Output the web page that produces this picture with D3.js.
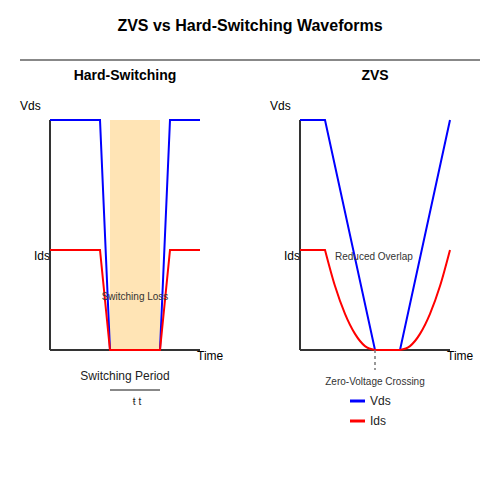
<!DOCTYPE html>
<html>
<head>
<meta charset="utf-8">
<script src="https://cdn.jsdelivr.net/npm/d3@7"></script>
<style>
  body { margin: 0; background: #fff; }
  svg { font-family: "Liberation Sans", Arial, sans-serif; }
</style>
</head>
<body>
<svg width="500" height="500"></svg>
<script>
// waveform data, time in arbitrary units, level normalised 0..1
const hardVdsT = [0, 5, 6, 11, 12, 15];
const hardVds  = [1, 1, 0, 0, 1, 1];
const hardIdsT = [0, 5, 6, 11, 12, 15];
const hardIds  = [0.435, 0.435, 0, 0, 0.435, 0.435];
const lossBand = [6, 11];

const zvsVdsT = [0, 2.5, 7.5, 10, 15];
const zvsVds  = [1, 1, 0, 0, 1];
const zvsIdsT = [0, 2.5, 3.5, 4.5, 5.5, 6.5, 7.5, 10, 11, 12, 13, 14, 15];
const zvsIds  = [0.435, 0.435, 0.278, 0.157, 0.07, 0.017, 0, 0, 0.017, 0.07, 0.157, 0.278, 0.435];
// index ranges of the Ids trace: flat, fall, flat, rise
const zvsIdsParts = [[0, 1], [1, 6], [6, 7], [7, 12]];
const zeroCross = 7.5;

const legendItems = [
  { name: 'Vds', color: 'blue' },
  { name: 'Ids', color: 'red' }
];

const plotW = 150;
const plotH = 230;
const idsLevel = 0.435;

const svg = d3.select('svg');

svg.append('text')
  .attr('x', 250).attr('y', 31)
  .attr('text-anchor', 'middle')
  .style('font-size', '16px').style('font-weight', 'bold')
  .text('ZVS vs Hard-Switching Waveforms');

svg.append('line')
  .attr('x1', 20).attr('x2', 480).attr('y1', 60).attr('y2', 60)
  .attr('stroke', '#888').attr('stroke-width', 2);

const x = d3.scaleLinear().domain([0, 15]).range([0, plotW]);
const y = d3.scaleLinear().domain([0, 1]).range([plotH, 0]);

function zip(ts, vs) {
  return ts.map((t, i) => [t, vs[i]]);
}

function panel(ox, title) {
  svg.append('text')
    .attr('x', ox + 75).attr('y', 80)
    .attr('text-anchor', 'middle')
    .style('font-size', '14px').style('font-weight', 'bold')
    .text(title);

  const g = svg.append('g').attr('transform', 'translate(' + ox + ',120)');

  g.append('text').attr('x', -30).attr('y', -10)
    .style('font-size', '12px').text('Vds');
  g.append('text').attr('x', 0).attr('y', y(idsLevel) + 10)
    .attr('text-anchor', 'end')
    .style('font-size', '12px').text('Ids');
  g.append('text').attr('x', plotW - 3).attr('y', plotH + 10)
    .style('font-size', '12px').text('Time');
  return g;
}

function axes(g) {
  g.append('line')
    .attr('x1', 0).attr('x2', 0).attr('y1', 0).attr('y2', plotH)
    .attr('stroke', '#333').attr('stroke-width', 2);
  g.append('line')
    .attr('x1', 0).attr('x2', plotW).attr('y1', plotH).attr('y2', plotH)
    .attr('stroke', '#333').attr('stroke-width', 2);
}

function wave(g, pts, color) {
  g.append('path')
    .datum(pts)
    .attr('d', d3.line().x(d => x(d[0])).y(d => y(d[1])))
    .attr('fill', 'none')
    .attr('stroke', color)
    .attr('stroke-width', 2);
}

// hard switching
const gh = panel(50, 'Hard-Switching');
gh.append('rect')
  .attr('x', x(lossBand[0])).attr('y', y(1))
  .attr('width', x(lossBand[1]) - x(lossBand[0]))
  .attr('height', y(0) - y(1))
  .attr('fill', '#ffe4b5');
axes(gh);
wave(gh, zip(hardVdsT, hardVds), 'blue');
wave(gh, zip(hardIdsT, hardIds), 'red');
gh.append('text')
  .attr('x', x((lossBand[0] + lossBand[1]) / 2)).attr('y', 180)
  .attr('text-anchor', 'middle')
  .style('font-size', '10px').attr('fill', '#333')
  .text('Switching Loss');
gh.append('text')
  .attr('x', 75).attr('y', 260)
  .attr('text-anchor', 'middle')
  .style('font-size', '12px').attr('fill', '#222')
  .text('Switching Period');
gh.append('line')
  .attr('x1', x(lossBand[0])).attr('x2', x(lossBand[1]))
  .attr('y1', 270).attr('y2', 270)
  .attr('stroke', '#888').attr('stroke-width', 2);
gh.append('text')
  .attr('x', 87).attr('y', 285)
  .attr('text-anchor', 'middle')
  .style('font-size', '10px').attr('fill', '#222')
  .text('ŧ t');

// ZVS
const gz = panel(300, 'ZVS');
axes(gz);
wave(gz, zip(zvsVdsT, zvsVds), 'blue');

const idsPts = zip(zvsIdsT, zvsIds);
const curveLine = d3.line().x(d => x(d[0])).y(d => y(d[1])).curve(d3.curveMonotoneX);
const idsPath = zvsIdsParts
  .map((p, i) => {
    const d = curveLine(idsPts.slice(p[0], p[1] + 1));
    return i === 0 ? d : 'L' + d.slice(1);
  })
  .join('');
gz.append('path')
  .attr('d', idsPath)
  .attr('fill', 'none')
  .attr('stroke', 'red')
  .attr('stroke-width', 2);

gz.append('text')
  .attr('x', 35).attr('y', y(idsLevel) + 10)
  .style('font-size', '10px').attr('fill', '#333')
  .text('Reduced Overlap');
gz.append('line')
  .attr('x1', x(zeroCross)).attr('x2', x(zeroCross))
  .attr('y1', plotH).attr('y2', plotH + 20)
  .attr('stroke', '#777').attr('stroke-width', 1.5)
  .attr('stroke-dasharray', '3,3');
gz.append('text')
  .attr('x', x(zeroCross)).attr('y', plotH + 35)
  .attr('text-anchor', 'middle')
  .style('font-size', '10px').attr('fill', '#333')
  .text('Zero-Voltage Crossing');

const lg = gz.selectAll('.legend')
  .data(legendItems)
  .enter().append('g')
  .attr('class', 'legend')
  .attr('transform', (d, i) => 'translate(50,' + (plotH + 51 + i * 20) + ')');
lg.append('line')
  .attr('x1', 0).attr('x2', 15)
  .attr('stroke', d => d.color).attr('stroke-width', 3);
lg.append('text')
  .attr('x', 20).attr('y', 4)
  .style('font-size', '12px').attr('fill', '#222')
  .text(d => d.name);
</script>
</body>
</html>
